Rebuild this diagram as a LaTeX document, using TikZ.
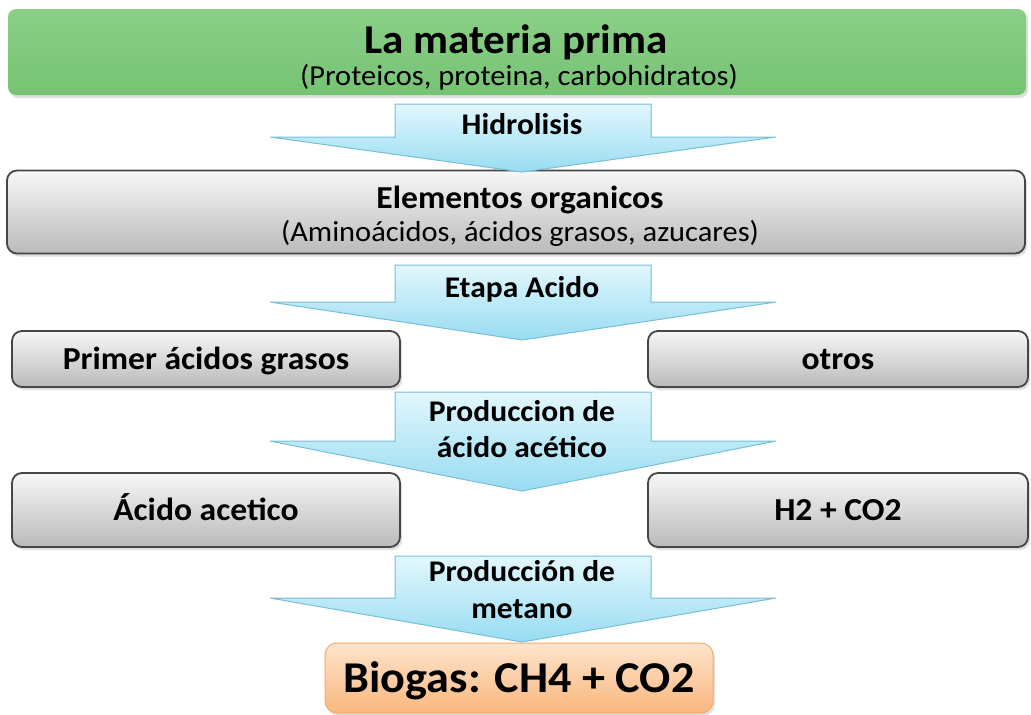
\documentclass[tikz,border=0pt]{standalone}
\usepackage{fontspec}
\setmainfont{Carlito}[FakeStretch=1.05]
\usetikzlibrary{positioning, shadows}
\definecolor{verdeA}{RGB}{138,207,135}
\definecolor{verdeB}{RGB}{118,195,115}
\definecolor{grisA}{RGB}{247,247,247}
\definecolor{grisB}{RGB}{186,186,186}
\definecolor{grisborde}{RGB}{70,70,70}
\definecolor{azulA}{RGB}{226,247,253}
\definecolor{azulB}{RGB}{152,220,242}
\definecolor{azulborde}{RGB}{120,190,214}
\definecolor{naranjaA}{RGB}{253,228,204}
\definecolor{naranjaB}{RGB}{249,183,126}
\definecolor{naranjaborde}{RGB}{240,172,118}

\begin{document}
\begin{tikzpicture}[x=1pt, y=-1pt,
  sombra/.style={drop shadow={opacity=.25, shadow xshift=2pt, shadow yshift=-3pt}},
  caja/.style={draw=grisborde, line width=1.8pt, rounded corners=10pt, top color=grisA, bottom color=grisB, inner sep=0pt, sombra,
    font=\fontsize{32}{36}\selectfont\bfseries, text height=20.5pt, text depth=0pt},
  cajaverde/.style={rounded corners=8pt, top color=verdeA, bottom color=verdeB, inner sep=0pt, sombra},
  cajanaranja/.style={draw=naranjaborde, line width=1pt, rounded corners=12pt, top color=naranjaA, bottom color=naranjaB, inner sep=0pt, sombra,
    font=\fontsize{44}{48}\selectfont\bfseries, text height=28pt, text depth=0pt},
  flecha/.style={draw=azulborde, line width=1pt, top color=azulA, bottom color=azulB},
  etiq/.style={anchor=base, inner sep=0pt, font=\fontsize{30}{35}\selectfont\bfseries},
  titulo/.style={anchor=base, inner sep=0pt, font=\fontsize{#1}{#1}\selectfont\bfseries},
  subtitulo/.style={anchor=base, inner sep=0pt, font=\fontsize{29}{32}\selectfont}
]
\useasboundingbox (0,0) rectangle (1031,715);

% cajas
\node[cajaverde, minimum width=1018pt, minimum height=86pt] (materia) at (517,52) {};
\node[titulo=41] (materiatit) at (516,53) {La materia prima};
\node[subtitulo] (materiasub) at (519,85) {(Proteicos, proteina, carbohidratos)};
\node[caja, minimum width=1018pt, minimum height=83pt] (organicos) at (516,212) {};
\node[titulo=32] (organicostit) at (520,208) {Elementos organicos};
\node[subtitulo] (organicossub) at (520,241) {(Aminoácidos, ácidos grasos, azucares)};
\node[caja, minimum width=388pt, minimum height=56pt] (grasos) at (206,359) {Primer ácidos grasos};
\node[caja, minimum width=380pt, minimum height=56pt] (otros) at (838,359) {otros};
\node[caja, minimum width=388pt, minimum height=74pt] (acetico) at (206,510) {Ácido acetico};
\node[caja, minimum width=380pt, minimum height=74pt] (gases) at (838,510) {H2 + CO2};
\node[cajanaranja, minimum width=388pt, minimum height=70pt] (biogas) at (519,678) {Biogas: CH4 + CO2};

% flechas
\draw[flecha] (395,104) -- (651,104) -- (651,137) -- (776,137) -- (522,172) -- (270,137) -- (395,137) -- cycle;
\node[etiq] (hidrolisis) at (522,134) {Hidrolisis};
\draw[flecha] (395,265) -- (651,265) -- (651,302) -- (776,302) -- (522,340) -- (270,302) -- (395,302) -- cycle;
\node[etiq] (etapa) at (522,297) {Etapa Acido};
\draw[flecha] (395,392) -- (651,392) -- (651,441) -- (776,441) -- (522,491) -- (270,441) -- (395,441) -- cycle;
\node[etiq] (produccion) at (522,421) {Produccion de};
\node[etiq] (acido) at (522,457) {ácido acético};
\draw[flecha] (395,556) -- (651,556) -- (651,598) -- (776,598) -- (522,642) -- (270,598) -- (395,598) -- cycle;
\node[etiq] (produccionm) at (522,581) {Producción de};
\node[etiq] (metano) at (522,618) {metano};
\end{tikzpicture}
\end{document}
